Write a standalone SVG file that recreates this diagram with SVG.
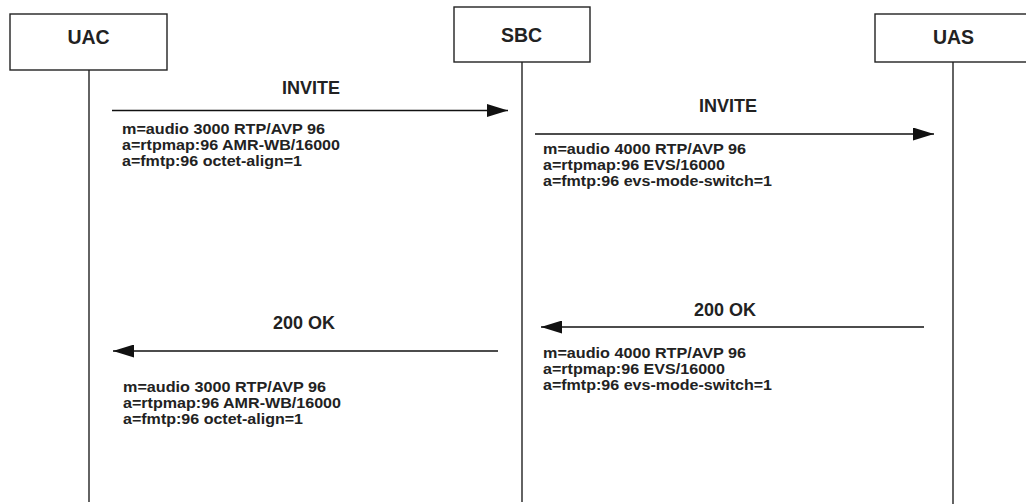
<svg xmlns="http://www.w3.org/2000/svg" width="1026" height="504" viewBox="0 0 1026 504">
<style>
.box{fill:#fff;stroke:#222;stroke-width:1.4}
.life{stroke:#222;stroke-width:1.4;fill:none}
.msg{stroke:#111;stroke-width:1.6;fill:none}
.hdr{font-family:"Liberation Sans",Arial,sans-serif;font-weight:bold;font-size:19.5px;fill:#222;text-anchor:middle}
.lbl{font-family:"Liberation Sans",Arial,sans-serif;font-weight:bold;font-size:18px;fill:#222;text-anchor:middle}
.sdp{font-family:"Liberation Sans",Arial,sans-serif;font-weight:bold;font-size:14.5px;fill:#222}
</style>
<defs>
<marker id="arrow" viewBox="0 0 21 13" refX="21" refY="6.5" markerWidth="21" markerHeight="13" markerUnits="userSpaceOnUse" orient="auto">
<path d="M0,0 L21,6.5 L0,13 Z" fill="#111"/>
</marker>
</defs>
<rect width="1026" height="504" fill="#fff"/>
<g id="lifelines">
<line class="life" x1="89" y1="70" x2="89" y2="502"/>
<line class="life" x1="522" y1="62" x2="522" y2="502"/>
<line class="life" x1="953" y1="62" x2="953" y2="504"/>
</g>
<g id="node-uac">
<rect class="box" x="10" y="14" width="157" height="56"/>
<text class="hdr" x="88.5" y="44">UAC</text>
</g>
<g id="node-sbc">
<rect class="box" x="454" y="7" width="136" height="55"/>
<text class="hdr" x="521.5" y="42">SBC</text>
</g>
<g id="node-uas">
<rect class="box" x="875" y="14" width="160" height="48"/>
<text class="hdr" x="953.5" y="44">UAS</text>
</g>
<g id="connectors">
<line class="msg" x1="112" y1="110.5" x2="508" y2="110.5" marker-end="url(#arrow)"/>
<line class="msg" x1="535" y1="134" x2="934" y2="134" marker-end="url(#arrow)"/>
<line class="msg" x1="924" y1="327" x2="541" y2="327" marker-end="url(#arrow)"/>
<line class="msg" x1="498" y1="351" x2="113" y2="351" marker-end="url(#arrow)"/>
</g>
<g id="labels">
<text class="lbl" x="311" y="94">INVITE</text>
<text class="lbl" x="728" y="112">INVITE</text>
<text class="lbl" x="725" y="316">200 OK</text>
<text class="lbl" x="304" y="329">200 OK</text>
</g>
<g id="sdp-invite-uac">
<text class="sdp" x="122" y="134" textLength="203" lengthAdjust="spacingAndGlyphs">m=audio 3000 RTP/AVP 96</text>
<text class="sdp" x="122" y="150" textLength="218" lengthAdjust="spacingAndGlyphs">a=rtpmap:96 AMR-WB/16000</text>
<text class="sdp" x="122" y="166" textLength="180" lengthAdjust="spacingAndGlyphs">a=fmtp:96 octet-align=1</text>
</g>
<g id="sdp-invite-sbc">
<text class="sdp" x="543" y="154" textLength="203" lengthAdjust="spacingAndGlyphs">m=audio 4000 RTP/AVP 96</text>
<text class="sdp" x="543" y="170" textLength="182" lengthAdjust="spacingAndGlyphs">a=rtpmap:96 EVS/16000</text>
<text class="sdp" x="543" y="186" textLength="229" lengthAdjust="spacingAndGlyphs">a=fmtp:96 evs-mode-switch=1</text>
</g>
<g id="sdp-ok-uas">
<text class="sdp" x="543" y="358" textLength="203" lengthAdjust="spacingAndGlyphs">m=audio 4000 RTP/AVP 96</text>
<text class="sdp" x="543" y="374" textLength="182" lengthAdjust="spacingAndGlyphs">a=rtpmap:96 EVS/16000</text>
<text class="sdp" x="543" y="390" textLength="229" lengthAdjust="spacingAndGlyphs">a=fmtp:96 evs-mode-switch=1</text>
</g>
<g id="sdp-ok-sbc">
<text class="sdp" x="123" y="392" textLength="203" lengthAdjust="spacingAndGlyphs">m=audio 3000 RTP/AVP 96</text>
<text class="sdp" x="123" y="408" textLength="218" lengthAdjust="spacingAndGlyphs">a=rtpmap:96 AMR-WB/16000</text>
<text class="sdp" x="123" y="424" textLength="180" lengthAdjust="spacingAndGlyphs">a=fmtp:96 octet-align=1</text>
</g>
</svg>
